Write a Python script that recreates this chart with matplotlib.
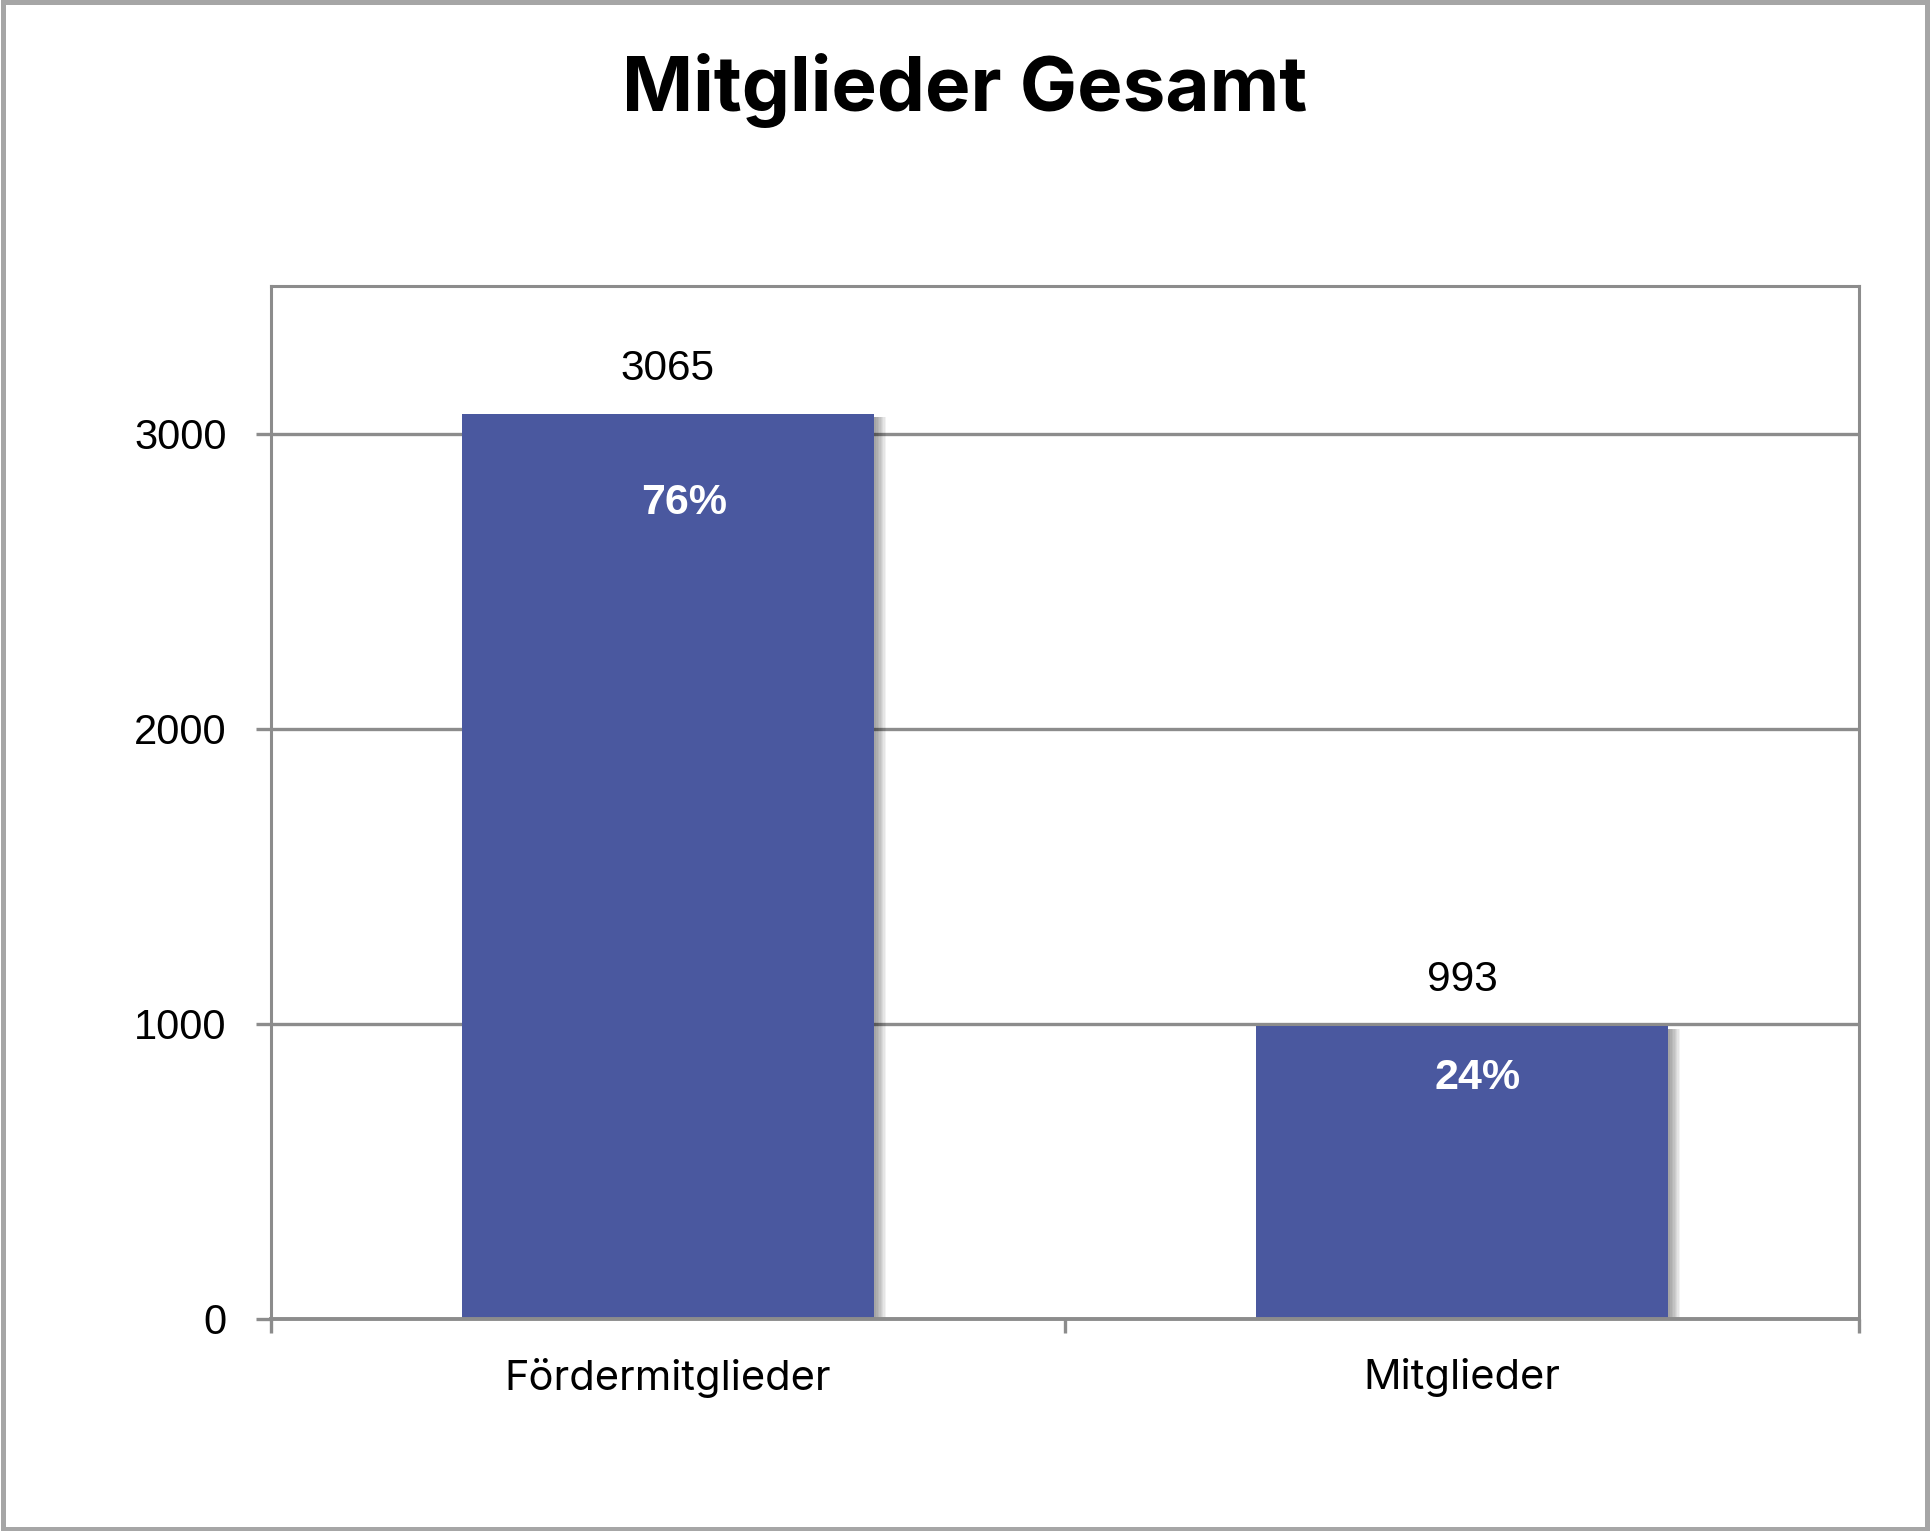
import matplotlib
matplotlib.use('Agg')
import matplotlib.pyplot as plt
import matplotlib.patheffects as pe
from matplotlib.patches import Rectangle

# data
categories = ['Fördermitglieder', 'Mitglieder']
values = [3065, 993]
shares = ['76%', '24%']
share_pos = [2766, 817]   # where the percent labels sit (data units)
yticks = [0, 1000, 2000, 3000]

bar_color = '#4A589F'
grid_color = '#8C8C8C'
num_font = 'Liberation Sans'
txt_font = 'Inter'

fig = plt.figure(figsize=(19.3, 15.31), dpi=100)
ax = fig.add_axes([0.1404, 0.1385, 0.8228, 0.6747])

x = range(len(categories))

# soft shadow to the right of each bar
shadow = [pe.SimplePatchShadow(offset=(o, -2), shadow_rgbFace='black', alpha=0.05)
          for o in (9, 8, 7, 6, 5, 4, 3, 2)]
bars = ax.bar(x, values, width=0.518, color=bar_color, zorder=3)
for b in bars:
    b.set_path_effects(shadow + [pe.Normal()])

for xi, v in zip(x, values):
    ax.annotate(str(v), (xi, v), xytext=(0, 33), textcoords='offset points',
                ha='center', va='center', fontsize=30.5, family=num_font)

for xi, s, p in zip(x, shares, share_pos):
    ax.text(xi + 0.02, p, s, ha='center', va='center', fontsize=31,
            fontweight='bold', color='white', family=num_font, zorder=4)

ax.set_xlim(-0.5, 1.5)
ax.set_ylim(0, 3500)
ax.set_yticks(yticks)
ax.set_yticklabels([str(t) for t in yticks], fontsize=30, family=num_font)
ax.set_xticks(list(x))
ax.set_xticklabels(categories, fontsize=30, family=txt_font)
ax.set_xticks([-0.5, 0.5, 1.5], minor=True)
ax.tick_params(axis='x', which='major', length=0, pad=28)
ax.tick_params(axis='x', which='minor', length=10, width=2.4, color=grid_color, direction='out')
ax.tick_params(axis='y', length=11, width=2.4, color=grid_color, pad=21)

ax.yaxis.grid(True, color=grid_color, linewidth=2.4, zorder=1)
ax.set_axisbelow(True)
for side in ['left', 'right', 'top', 'bottom']:
    ax.spines[side].set_color(grid_color)
    ax.spines[side].set_linewidth(2.2)
ax.spines['bottom'].set_linewidth(2.8)
ax.spines['bottom'].set_zorder(5)

fig.text(0.5, 0.941, 'Mitglieder Gesamt', ha='center', va='center',
         fontsize=55, fontweight='bold', family=txt_font)

# outer frame of the chart
fig.patches.append(Rectangle((0.0013, 0.0016), 0.9974, 0.9968, transform=fig.transFigure,
                             fill=False, edgecolor='#A6A6A6', linewidth=3.6))

fig.savefig('out.png', dpi=100)
